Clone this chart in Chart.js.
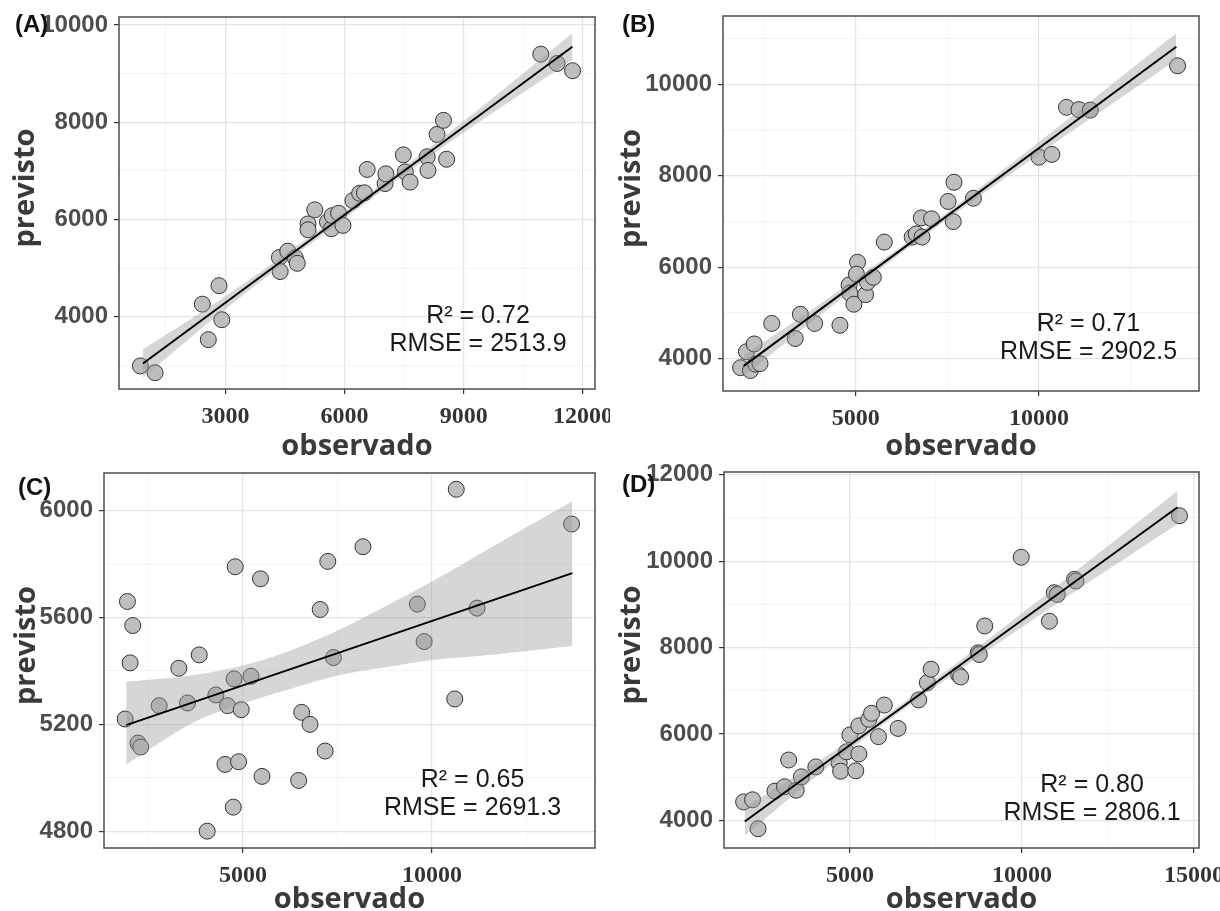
<!DOCTYPE html>
<html>
<head>
<meta charset="utf-8">
<script src="https://cdn.jsdelivr.net/npm/chart.js@4.4.1/dist/chart.umd.min.js"></script>
<style>
body { margin: 0; background: #fff; }
#wrap { position: relative; width: 1220px; height: 911px; overflow: hidden; }
canvas { position: absolute; }
</style>
</head>
<body>
<div id="wrap">
  <canvas id="chartA" width="610" height="462" style="left:0px;top:0px"></canvas>
  <canvas id="chartB" width="610" height="462" style="left:610px;top:0px"></canvas>
  <canvas id="chartC" width="610" height="449" style="left:0px;top:462px"></canvas>
  <canvas id="chartD" width="610" height="449" style="left:610px;top:462px"></canvas>
</div>
<script>
// (A)
var obsA = [860, 1230, 2420, 2570, 2840, 2910, 4360, 4380, 4570, 4760, 4810, 5080, 5080, 5250, 5570, 5670, 5690, 5850, 5960, 6210, 6380, 6500, 6570, 7020, 7040, 7480, 7530, 7650, 8080, 8100, 8330, 8490, 8570, 10940, 11350, 11740];
var prevA = [2990, 2850, 4260, 3530, 4640, 3940, 5220, 4930, 5350, 5210, 5100, 5910, 5790, 6200, 5950, 5810, 6080, 6130, 5880, 6390, 6540, 6550, 7030, 6740, 6940, 7330, 6980, 6770, 7290, 7010, 7750, 8040, 7240, 9400, 9210, 9060];
var fitXA = [926, 11735];
var fitYA = [3038, 9553];
var bandXA = [926, 3000, 6300, 9000, 11735];
var bandHiA = [3330, 4420, 6350, 8020, 9830];
var bandLoA = [2750, 4160, 6200, 7790, 9280];
var xTicksA = [3000, 6000, 9000, 12000];
var xMinorA = [1500, 4500, 7500, 10500];
var yTicksA = [4000, 6000, 8000, 10000];
var yMinorA = [3000, 5000, 7000, 9000];
var statsA = ['R\u00b2 = 0.72', 'RMSE = 2513.9'];

// (B)
var obsB = [1860, 2020, 2130, 2230, 2270, 2390, 2710, 3350, 3490, 3880, 4570, 4820, 4840, 4950, 5050, 5020, 5270, 5320, 5480, 5780, 6540, 6650, 6810, 6790, 7070, 7520, 7660, 7680, 8210, 10000, 10350, 10750, 11090, 11400, 13780];
var prevB = [3800, 4150, 3740, 4320, 3880, 3890, 4770, 4440, 4970, 4770, 4730, 5610, 5430, 5190, 6110, 5850, 5400, 5670, 5780, 6550, 6660, 6730, 6660, 7080, 7060, 7440, 7000, 7860, 7510, 8410, 8470, 9500, 9450, 9440, 10410];
var fitXB = [1947, 13745];
var fitYB = [3839, 10828];
var bandXB = [1947, 4000, 6500, 9500, 13745];
var bandHiB = [4070, 5180, 6610, 8430, 11120];
var bandLoB = [3610, 4930, 6460, 8195, 10540];
var xTicksB = [5000, 10000];
var xMinorB = [2500, 7500, 12500];
var yTicksB = [4000, 6000, 8000, 10000];
var yMinorB = [5000, 7000, 9000, 11000];
var statsB = ['R\u00b2 = 0.71', 'RMSE = 2902.5'];

// (C)
var obsC = [1880, 1940, 2080, 2010, 2220, 2290, 2780, 3300, 3530, 3840, 4050, 4280, 4520, 4590, 4760, 4790, 4740, 4880, 4950, 5210, 5460, 5500, 6470, 6550, 6770, 7040, 7170, 7240, 7390, 8170, 9610, 9790, 10640, 10600, 11190, 13690];
var prevC = [5220, 5660, 5570, 5430, 5130, 5115, 5270, 5410, 5280, 5460, 4800, 5310, 5050, 5270, 5370, 5790, 4890, 5060, 5255, 5380, 5745, 5005, 4990, 5245, 5200, 5630, 5100, 5810, 5450, 5865, 5650, 5510, 6080, 5295, 5635, 5950];
var fitXC = [1907, 13711];
var fitYC = [5197, 5766];
var bandXC = [1907, 3711, 5000, 6289, 7526, 8866, 10000, 11443, 13711];
var bandHiC = [5359, 5385, 5420, 5478, 5553, 5650, 5735, 5853, 6035];
var bandLoC = [5050, 5209, 5278, 5334, 5384, 5416, 5441, 5459, 5493];
var xTicksC = [5000, 10000];
var xMinorC = [2500, 7500, 12500];
var yTicksC = [4800, 5200, 5600, 6000];
var yMinorC = [5000, 5400, 5800];
var statsC = ['R\u00b2 = 0.65', 'RMSE = 2691.3'];

// (D)
var obsD = [1910, 2170, 2330, 2820, 3100, 3220, 3440, 3590, 4010, 4690, 4730, 4900, 5000, 5170, 5260, 5260, 5550, 5630, 5830, 6000, 6400, 7000, 7250, 7360, 8160, 8220, 8730, 8760, 8920, 9980, 10800, 10940, 11030, 11530, 11570, 14580];
var prevD = [4430, 4480, 3810, 4680, 4780, 5400, 4700, 5010, 5240, 5330, 5140, 5590, 5980, 5150, 5540, 6190, 6340, 6480, 5940, 6670, 6130, 6790, 7190, 7500, 7370, 7320, 7880, 7840, 8500, 10090, 8610, 9270, 9230, 9580, 9540, 11050];
var fitXD = [1943, 14523];
var fitYD = [3977, 11248];
var bandXD = [1943, 3500, 5500, 9000, 12000, 14523];
var bandHiD = [4300, 5070, 6120, 8180, 10040, 11630];
var bandLoD = [3650, 4680, 5945, 7930, 9540, 10860];
var xTicksD = [5000, 10000, 15000];
var xMinorD = [2500, 7500, 12500];
var yTicksD = [4000, 6000, 8000, 10000, 12000];
var yMinorD = [5000, 7000, 9000, 11000];
var statsD = ['R\u00b2 = 0.80', 'RMSE = 2806.1'];

var sans = "'Liberation Sans', Arial, sans-serif";
var titleFont = "bold 29px 'Open Sans', 'DejaVu Sans', sans-serif";

// box, axis titles, panel tag and R2/RMSE text
var panelText = {
  id: 'panelText',
  afterDraw: function(chart, args, opts) {
    var ctx = chart.ctx, a = chart.chartArea;
    ctx.save();
    ctx.strokeStyle = '#4d4d4d';
    ctx.lineWidth = 1.5;
    ctx.strokeRect(a.left, a.top, a.right - a.left, a.bottom - a.top);

    ctx.fillStyle = '#3a3a3a';
    ctx.font = titleFont;
    ctx.textAlign = 'center';
    ctx.textBaseline = 'alphabetic';
    ctx.fillText('observado', (a.left + a.right) / 2, opts.xTitleY);
    ctx.save();
    ctx.translate(opts.yTitleX, (a.top + a.bottom) / 2 - 15);
    ctx.rotate(-Math.PI / 2);
    ctx.textBaseline = 'middle';
    ctx.fillText('previsto', 0, 0);
    ctx.restore();

    ctx.fillStyle = '#111';
    ctx.font = 'bold 24px ' + sans;
    ctx.textBaseline = 'middle';
    ctx.textAlign = 'left';
    ctx.fillText(opts.tag, opts.tagX, opts.tagY);

    var px = chart.scales.x.getPixelForValue(opts.annX);
    var py = chart.scales.y.getPixelForValue(opts.annY);
    ctx.font = '25px ' + sans;
    ctx.textAlign = 'center';
    ctx.fillStyle = '#1a1a1a';
    ctx.fillText(opts.lines[0], px, py - 14);
    ctx.fillText(opts.lines[1], px, py + 14);
    ctx.restore();
  }
};

function buildTicks(majors, minors) {
  return function(scale) {
    scale.ticks = majors.concat(minors).sort(function(a, b) { return a - b; })
      .map(function(v) { return {value: v}; });
  };
}

function gridFor(majors) {
  function major(c) { return c.tick && majors.indexOf(c.tick.value) >= 0; }
  return {
    color: function(c) { return major(c) ? '#e4e4e4' : '#efefef'; },
    lineWidth: function(c) { return major(c) ? 1.2 : 0.7; },
    tickColor: function(c) { return major(c) ? '#333' : 'rgba(0,0,0,0)'; },
    tickWidth: 1.2,
    tickLength: 5
  };
}

function labelFor(majors) {
  return function(v) { return majors.indexOf(v) >= 0 ? String(v) : ''; };
}

function makePanel(id, p) {
  var points = p.obs.map(function(v, i) { return {x: v, y: p.prev[i]}; });
  var fit = p.fitX.map(function(v, i) { return {x: v, y: p.fitY[i]}; });
  var hi = p.bandX.map(function(v, i) { return {x: v, y: p.bandHi[i]}; });
  var lo = p.bandX.map(function(v, i) { return {x: v, y: p.bandLo[i]}; });

  new Chart(document.getElementById(id), {
    type: 'scatter',
    data: {
      datasets: [
        { type: 'line', data: fit, borderColor: '#000', borderWidth: 2, pointRadius: 0, fill: false },
        { type: 'line', data: hi, borderColor: 'rgba(0,0,0,0)', borderWidth: 0, pointRadius: 0,
          cubicInterpolationMode: 'monotone', fill: '+1', backgroundColor: 'rgba(153,153,153,0.4)' },
        { type: 'line', data: lo, borderColor: 'rgba(0,0,0,0)', borderWidth: 0, pointRadius: 0,
          cubicInterpolationMode: 'monotone', fill: false },
        { data: points, pointRadius: 8, pointBackgroundColor: '#bebebe', pointBorderColor: '#333', pointBorderWidth: 1 }
      ]
    },
    options: {
      responsive: false,
      animation: false,
      devicePixelRatio: 1,
      layout: { padding: { top: p.padTop, right: p.padRight, left: 0, bottom: 0 } },
      plugins: {
        legend: { display: false },
        tooltip: { enabled: false },
        panelText: { tag: p.tag, tagX: p.tagX, tagY: p.tagY, annX: p.annX, annY: p.annY, lines: p.stats,
                     xTitleY: p.xTitleY, yTitleX: p.yTitleX }
      },
      scales: {
        x: {
          type: 'linear', min: p.xMin, max: p.xMax,
          afterBuildTicks: buildTicks(p.xTicks, p.xMinor),
          afterFit: function(s) { s.height = p.xHeight; s.paddingLeft = 0; s.paddingRight = 0; },
          grid: gridFor(p.xTicks),
          border: { display: false },
          ticks: { autoSkip: false, maxRotation: 0, padding: 8, color: '#333',
                   font: { family: "'Liberation Serif', 'Times New Roman', serif", size: 24, weight: 'bold' },
                   callback: labelFor(p.xTicks) }
        },
        y: {
          type: 'linear', min: p.yMin, max: p.yMax,
          afterBuildTicks: buildTicks(p.yTicks, p.yMinor),
          afterFit: function(s) { s.width = p.yWidth; s.paddingTop = 0; s.paddingBottom = 0; },
          grid: gridFor(p.yTicks),
          border: { display: false },
          ticks: { autoSkip: false, padding: 6, color: '#4d4d4d',
                   font: { family: sans, size: 24, weight: 'bold' },
                   callback: labelFor(p.yTicks) }
        }
      }
    },
    plugins: [panelText]
  });
}

makePanel('chartA', {
  obs: obsA, prev: prevA, fitX: fitXA, fitY: fitYA, bandX: bandXA, bandHi: bandHiA, bandLo: bandLoA,
  xTicks: xTicksA, xMinor: xMinorA, yTicks: yTicksA, yMinor: yMinorA, stats: statsA,
  xMin: 322, xMax: 12305, yMin: 2515, yMax: 10165,
  padTop: 17, padRight: 15, yWidth: 119, xHeight: 73, xTitleY: 455, yTitleX: 26,
  tag: '(A)', tagX: 15, tagY: 25, annX: 9360, annY: 3720
});

makePanel('chartB', {
  obs: obsB, prev: prevB, fitX: fitXB, fitY: fitYB, bandX: bandXB, bandHi: bandHiB, bandLo: bandLoB,
  xTicks: xTicksB, xMinor: xMinorB, yTicks: yTicksB, yMinor: yMinorB, stats: statsB,
  xMin: 1380, xMax: 14364, yMin: 3290, yMax: 11500,
  padTop: 16, padRight: 21, yWidth: 113, xHeight: 71, xTitleY: 455, yTitleX: 22,
  tag: '(B)', tagX: 12, tagY: 25, annX: 11350, annY: 4450
});

makePanel('chartC', {
  obs: obsC, prev: prevC, fitX: fitXC, fitY: fitYC, bandX: bandXC, bandHi: bandHiC, bandLo: bandLoC,
  xTicks: xTicksC, xMinor: xMinorC, yTicks: yTicksC, yMinor: yMinorC, stats: statsC,
  xMin: 1320, xMax: 14310, yMin: 4737, yMax: 6141,
  padTop: 11, padRight: 15, yWidth: 104, xHeight: 63, xTitleY: 446, yTitleX: 27,
  tag: '(C)', tagX: 18, tagY: 26, annX: 11070, annY: 4940
});

makePanel('chartD', {
  obs: obsD, prev: prevD, fitX: fitXD, fitY: fitYD, bandX: bandXD, bandHi: bandHiD, bandLo: bandLoD,
  xTicks: xTicksD, xMinor: xMinorD, yTicks: yTicksD, yMinor: yMinorD, stats: statsD,
  xMin: 1340, xMax: 15148, yMin: 3364, yMax: 12062,
  padTop: 10, padRight: 21, yWidth: 114, xHeight: 63, xTitleY: 446, yTitleX: 22,
  tag: '(D)', tagX: 12, tagY: 23, annX: 12040, annY: 4500
});
</script>
</body>
</html>
